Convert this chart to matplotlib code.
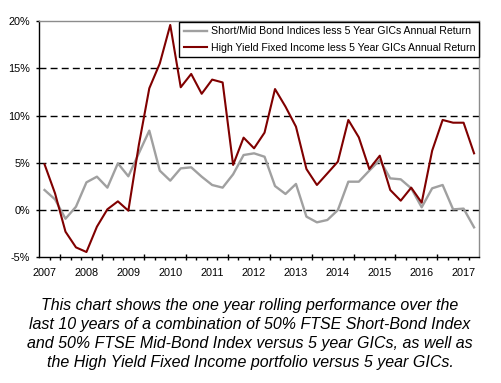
import matplotlib
matplotlib.use('Agg')
import matplotlib.pyplot as plt
import numpy as np
from matplotlib.ticker import FixedLocator, FuncFormatter

years = ['2007', '2008', '2009', '2010', '2011', '2012', '2013', '2014', '2015', '2016', '2017']
short_mid = [2.12, 1.13, -0.92, 0.35, 2.93, 3.53, 2.37, 4.94, 3.57, 6.0, 8.4, 4.17,
             3.11, 4.41, 4.52, 3.53, 2.65, 2.37, 3.78, 5.82, 6.0, 5.64, 2.54, 1.7,
             2.76, -0.7, -1.3, -1.05, 0.0, 3.0, 3.0, 4.17, 5.29, 3.35, 3.25, 2.3,
             0.29, 2.3, 2.65, 0.07, 0.15, -1.83]
high_yield = [4.84, 1.77, -2.29, -3.95, -4.44, -1.76, 0.08, 0.92, -0.07, 6.88, 12.88, 15.5,
              19.58, 12.99, 14.4, 12.3, 13.8, 13.5, 4.77, 7.66, 6.53, 8.19, 12.8, 10.94,
              8.82, 4.34, 2.65, 3.88, 5.12, 9.53, 7.69, 4.34, 5.75, 2.12, 0.99, 2.37,
              0.78, 6.28, 9.53, 9.24, 9.24, 6.0]
series_labels = ['Short/Mid Bond Indices less 5 Year GICs Annual Return',
                 'High Yield Fixed Income less 5 Year GICs Annual Return']
y_ticks = [-5, 0, 5, 10, 15, 20]
caption_lines = ['This chart shows the one year rolling performance over the',
                 'last 10 years of a combination of 50% FTSE Short-Bond Index',
                 'and 50% FTSE Mid-Bond Index versus 5 year GICs, as well as',
                 'the High Yield Fixed Income portfolio versus 5 year GICs.']

plt.rcParams['font.family'] = ['Liberation Sans', 'DejaVu Sans']

W, H = 501, 383
fig = plt.figure(figsize=(W / 100, H / 100), dpi=100)
x0, x1, yt, yb = 39.3, 479.3, 21.0, 257.3
ax = fig.add_axes([x0 / W, 1 - yb / H, (x1 - x0) / W, (yb - yt) / H])

n = len(short_mid)
x = np.arange(n)
ax.set_xlim(-0.5, n - 0.5)
ax.set_ylim(-5, 20)

for v in y_ticks[1:-1]:
    ax.axhline(v, color='black', lw=1.0, linestyle=(0, (5, 3)), zorder=1)

ax.plot(x, short_mid, color='#a0a0a0', lw=1.7, label=series_labels[0], zorder=3)
ax.plot(x, high_yield, color='#800000', lw=1.5, label=series_labels[1], zorder=4)

# spines
for s in ['left', 'bottom']:
    ax.spines[s].set_color('black')
    ax.spines[s].set_linewidth(1.0)
for s in ['top', 'right']:
    ax.spines[s].set_color('#8c8c8c')
    ax.spines[s].set_linewidth(1.0)

# y axis
ax.yaxis.set_major_locator(FixedLocator(y_ticks))
ax.yaxis.set_major_formatter(FuncFormatter(lambda v, p: f'{v:.0f}%'))
ax.tick_params(axis='y', direction='out', length=2.5, width=1.0, pad=4,
               labelsize=7.8, colors='black')

# x axis ticks: boundaries between quarters
bounds = np.arange(0.5, n - 0.5, 1.0)
major_b = [b for b in bounds if (b - 1.5) % 4 == 0]
minor_b = [b for b in bounds if (b - 1.5) % 4 != 0]
ax.xaxis.set_major_locator(FixedLocator(major_b))
ax.xaxis.set_minor_locator(FixedLocator(minor_b))
ax.tick_params(axis='x', which='major', direction='inout', length=4.5, width=1.0,
               labelbottom=False)
ax.tick_params(axis='x', which='minor', direction='out', length=2.0, width=1.0)

sec = ax.secondary_xaxis('bottom')
sec.set_xticks(np.arange(0, n, 4), labels=years)
sec.tick_params(axis='x', length=0, pad=7.5, labelsize=7.8)
sec.spines['bottom'].set_visible(False)

leg = ax.legend(loc='upper right', bbox_to_anchor=(x1 / W, 1 - 22 / H),
                bbox_transform=fig.transFigure, fontsize=7.6, frameon=True,
                fancybox=False, edgecolor='black', framealpha=1.0,
                borderpad=0.4, labelspacing=0.65, handlelength=2.2,
                handletextpad=0.35, borderaxespad=0.0)
leg.get_frame().set_linewidth(1.0)

baselines = [310, 329, 348, 367]
for line, yb_ in zip(caption_lines, baselines):
    fig.text(250 / W, 1 - yb_ / H, line, ha='center', va='baseline',
             fontsize=11.5, style='italic', color='black')

fig.savefig('out.png', dpi=100)
